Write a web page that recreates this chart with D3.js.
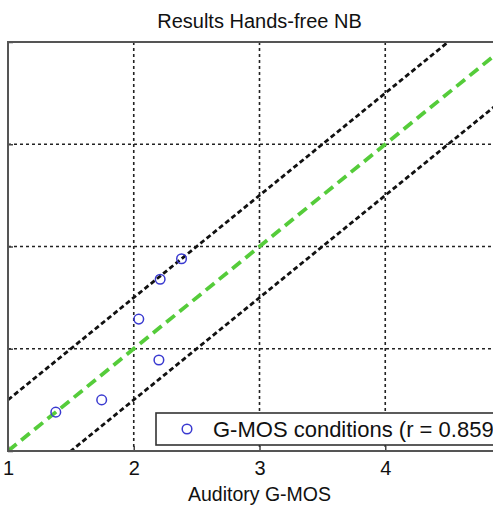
<!DOCTYPE html>
<html>
<head>
<meta charset="utf-8">
<script src="https://cdn.jsdelivr.net/npm/d3@7"></script>
<style>
  body { margin: 0; background: #fff; }
  svg { display: block; font-family: "Liberation Sans", Arial, sans-serif; }
</style>
</head>
<body>
<div id="chart"></div>
<script>
// values
const auditory = [1.38, 1.745, 2.04, 2.20, 2.21, 2.38];
const predicted = [1.38, 1.50, 2.29, 1.89, 2.68, 2.88];
const xTicks = [1, 2, 3, 4, 5];
const yTicks = [1, 2, 3, 4, 5];
const lineOffsets = [0.5, -0.5];
const rValue = "0.859";

const width = 493, height = 506;
const plotLeft = 8, plotTop = 42, plotBottom = 451, plotRight = 511;

const svg = d3.select("#chart")
    .append("svg")
    .attr("width", width)
    .attr("height", height);

const x = d3.scaleLinear().domain([1, 5]).range([plotLeft, plotRight]);
const y = d3.scaleLinear().domain([1, 5]).range([plotBottom, plotTop]);

svg.append("clipPath").attr("id", "plot")
    .append("rect")
    .attr("x", plotLeft).attr("y", plotTop)
    .attr("width", plotRight - plotLeft).attr("height", plotBottom - plotTop);

// grid
const grid = svg.append("g").attr("stroke", "#222").attr("stroke-width", 1.6)
    .attr("stroke-dasharray", "3,3");
grid.selectAll(".gx")
    .data(xTicks.filter(d => d > 1 && d < 5))
    .enter().append("line")
    .attr("x1", d => x(d)).attr("x2", d => x(d))
    .attr("y1", plotTop).attr("y2", plotBottom);
grid.selectAll(".gy")
    .data(yTicks.filter(d => d > 1 && d < 5))
    .enter().append("line")
    .attr("y1", d => y(d)).attr("y2", d => y(d))
    .attr("x1", plotLeft).attr("x2", plotRight);

const plot = svg.append("g").attr("clip-path", "url(#plot)");
const diag = (off) => d3.line()([[x(1), y(1 + off)], [x(5), y(5 + off)]]);

plot.selectAll(".bound")
    .data(lineOffsets)
    .enter().append("path")
    .attr("d", d => diag(d))
    .attr("fill", "none")
    .attr("stroke", "#111")
    .attr("stroke-width", 2.8)
    .attr("stroke-dasharray", "5,3");

plot.append("path")
    .attr("d", diag(0))
    .attr("fill", "none")
    .attr("stroke", "#55cc3a")
    .attr("stroke-width", 3.8)
    .attr("stroke-dasharray", "11,6");

plot.selectAll("circle")
    .data(auditory.map((a, i) => [a, predicted[i]]))
    .enter().append("circle")
    .attr("cx", d => x(d[0]))
    .attr("cy", d => y(d[1]))
    .attr("r", 4.8)
    .attr("fill", "none")
    .attr("stroke", "#3a3ad0")
    .attr("stroke-width", 1.5);

// axes
const xAxis = d3.axisBottom(x).tickValues(xTicks).tickSize(-5).tickPadding(10)
    .tickFormat(d3.format("d"));
const gx = svg.append("g").attr("transform", `translate(0,${plotBottom})`).call(xAxis);
gx.select(".domain").remove();
gx.selectAll(".tick line").attr("stroke", "#444").attr("stroke-width", 1.5);
gx.selectAll("text").attr("font-size", 20).attr("fill", "#111")
    .attr("font-family", "Liberation Sans, Arial, sans-serif");

const gy = svg.append("g").attr("transform", `translate(${plotLeft},0)`)
    .call(d3.axisLeft(y).tickValues(yTicks).tickSize(-5).tickFormat(""));
gy.select(".domain").remove();
gy.selectAll(".tick line").attr("stroke", "#444").attr("stroke-width", 1.5);

// border
svg.append("rect")
    .attr("x", plotLeft).attr("y", plotTop)
    .attr("width", plotRight - plotLeft).attr("height", plotBottom - plotTop)
    .attr("fill", "none")
    .attr("stroke", "#555")
    .attr("stroke-width", 2);

// legend (runs past the right edge, as in the cropped original)
const lg = svg.append("g");
lg.append("rect")
    .attr("x", 156).attr("y", 413)
    .attr("width", 400).attr("height", 32)
    .attr("fill", "#fff")
    .attr("stroke", "#333")
    .attr("stroke-width", 1.6);
lg.append("circle")
    .attr("cx", 187).attr("cy", 429).attr("r", 4.8)
    .attr("fill", "none").attr("stroke", "#3a3ad0").attr("stroke-width", 1.5);
lg.append("text")
    .attr("x", 213).attr("y", 437)
    .attr("font-size", 22).attr("fill", "#111")
    .text(`G-MOS conditions (r = ${rValue})`);

svg.append("text")
    .attr("x", (plotLeft + plotRight) / 2).attr("y", 28)
    .attr("text-anchor", "middle")
    .attr("font-size", 20).attr("fill", "#111")
    .text("Results Hands-free NB");

svg.append("text")
    .attr("x", (plotLeft + plotRight) / 2).attr("y", 501)
    .attr("text-anchor", "middle")
    .attr("font-size", 19.5).attr("fill", "#111")
    .text("Auditory G-MOS");
</script>
</body>
</html>
